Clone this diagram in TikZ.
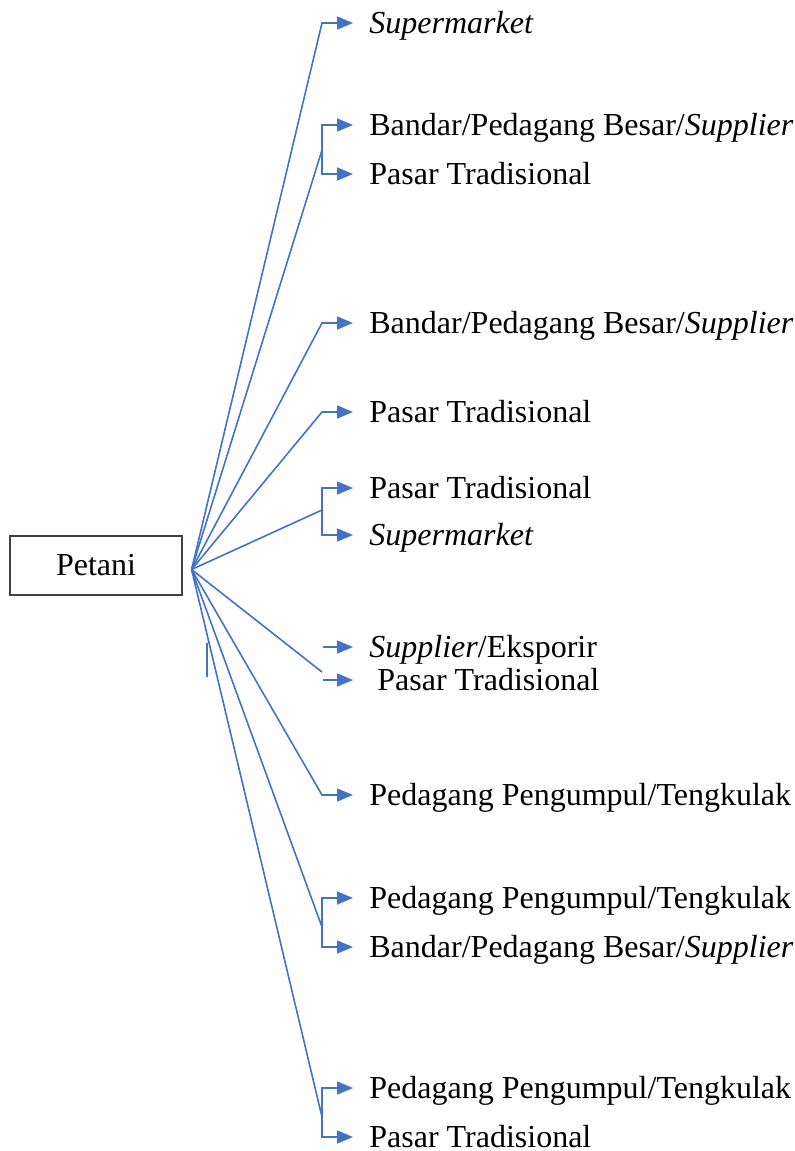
\documentclass[tikz,border=0pt]{standalone}
\usepackage{fontspec}
\setmainfont{Liberation Serif}
\usetikzlibrary{arrows.meta}
\definecolor{chainblue}{RGB}{68,114,196}
\tikzset{
  fanline/.style={chainblue, line width=0.8pt},
  flowarrow/.style={-{Triangle[length=8pt,width=6.5pt]}, chainblue, line width=0.8pt},
  farmerbox/.style={draw=black!75, line width=0.6pt, minimum width=86pt, minimum height=29.5pt, align=center},
  market/.style={anchor=west, inner xsep=8pt, inner ysep=0pt, text height=13pt, text depth=3pt}
}

\begin{document}
\begin{tikzpicture}[x=0.5pt, y=-0.5pt, every node/.style={font=\fontsize{16}{19}\selectfont}]
  \useasboundingbox (0,0) rectangle (795,1151);
  \node[farmerbox] (petani) at (96,565.5) {Petani};
  \coordinate (fan) at ([xshift=4.5pt,yshift=-2pt]petani.east);
  % market channels
  \node[market] (sm1) at (353,23) {\textit{Supermarket}};
  \node[market] (bd2) at (353,125) {Bandar/Pedagang Besar/\textit{Supplier}};
  \node[market] (ps2) at (353,174) {Pasar Tradisional};
  \node[market] (bd3) at (353,323) {Bandar/Pedagang Besar/\textit{Supplier}};
  \node[market] (ps4) at (353,412) {Pasar Tradisional};
  \node[market] (ps5) at (353,488) {Pasar Tradisional};
  \node[market] (sm5) at (353,535) {\textit{Supermarket}};
  \node[market] (se6) at (353,647) {\textit{Supplier}/Eksporir};
  \node[market] (ps6) at (353,680) {\ Pasar Tradisional};
  \node[market] (pp7) at (353,795) {Pedagang Pengumpul/Tengkulak};
  \node[market] (pp8) at (353,898) {Pedagang Pengumpul/Tengkulak};
  \node[market] (bd8) at (353,947) {Bandar/Pedagang Besar/\textit{Supplier}};
  \node[market] (pp9) at (353,1088) {Pedagang Pengumpul/Tengkulak};
  \node[market] (ps9) at (353,1137) {Pasar Tradisional};
  % corners and junctions
  \coordinate (k1) at (322,23);
  \coordinate (j2) at (322,150);
  \coordinate (k3) at (322,323);
  \coordinate (k4) at (322,412);
  \coordinate (j5) at (322,510);
  \coordinate (j6) at (322,672);
  \coordinate (s6a) at (323,647);
  \coordinate (s6b) at (323,680);
  \coordinate (k7) at (322,795);
  \coordinate (j8) at (322,927);
  \coordinate (j9) at (322,1117);
  \coordinate (stubtop) at (207,643);
  \coordinate (stubbot) at (207,677);
  \draw[flowarrow] (fan) -- (k1) -- (sm1.west);
  \draw[fanline] (fan) -- (j2);
  \draw[flowarrow] (j2) |- (bd2.west);
  \draw[flowarrow] (j2) |- (ps2.west);
  \draw[flowarrow] (fan) -- (k3) -- (bd3.west);
  \draw[flowarrow] (fan) -- (k4) -- (ps4.west);
  \draw[fanline] (fan) -- (j5);
  \draw[flowarrow] (j5) |- (ps5.west);
  \draw[flowarrow] (j5) |- (sm5.west);
  \draw[fanline] (fan) -- (j6);
  \draw[flowarrow] (s6a) -- (se6.west);
  \draw[flowarrow] (s6b) -- (ps6.west);
  \draw[flowarrow] (fan) -- (k7) -- (pp7.west);
  \draw[fanline] (fan) -- (j8);
  \draw[flowarrow] (j8) |- (pp8.west);
  \draw[flowarrow] (j8) |- (bd8.west);
  \draw[fanline] (fan) -- (j9);
  \draw[flowarrow] (j9) |- (pp9.west);
  \draw[flowarrow] (j9) |- (ps9.west);
  \draw[fanline] (stubtop) -- (stubbot);
\end{tikzpicture}
\end{document}
